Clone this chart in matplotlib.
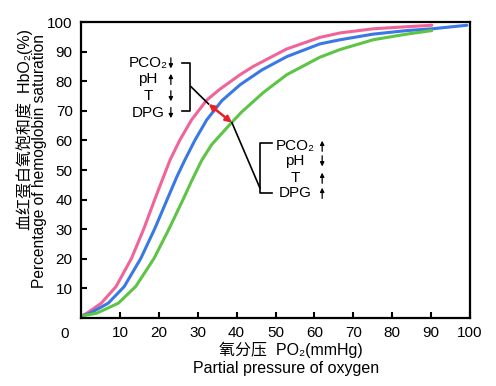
import matplotlib
matplotlib.use("Agg")
from matplotlib import pyplot as plt

# curve points (PO2 mmHg, saturation %)
pink_x = [0.2, 1.5, 5.2, 9.0, 13.0, 16.2, 19.0, 20.7, 22.9, 25.4, 28.4, 32.3, 35.7,
          40.9, 44.3, 52.9, 61.4, 66.6, 75.1, 83.7, 90.2]
pink_y = [0.7, 1.6, 5.0, 10.6, 20.2, 30.3, 40.2, 46.0, 53.4, 60.1, 66.9, 73.6, 77.3,
          82.2, 85.0, 90.9, 94.8, 96.3, 97.7, 98.4, 98.9]

blue_x = [0.2, 2.3, 7.0, 11.1, 15.4, 19.0, 22.2, 24.6, 26.7, 29.3, 32.3, 36.2, 40.9,
          46.5, 52.9, 61.4, 66.6, 75.1, 83.7, 90.2, 99.2]
blue_y = [0.7, 1.6, 5.0, 10.6, 20.2, 30.3, 40.2, 47.6, 53.4, 60.1, 66.9, 73.4, 78.8,
          83.8, 88.3, 92.6, 94.0, 95.9, 97.1, 97.7, 98.9]

green_x = [0.2, 4.0, 9.6, 14.1, 18.8, 22.7, 26.3, 28.4, 31.0, 33.6, 38.7, 41.3, 46.9,
           52.9, 61.4, 66.6, 75.1, 83.7, 90.2]
green_y = [0.7, 1.6, 5.0, 10.7, 20.2, 30.3, 40.2, 46.2, 53.2, 58.6, 66.0, 69.6, 76.2,
           82.2, 88.1, 90.7, 94.0, 95.9, 97.1]

left_labels = ["PCO₂", "pH", "T", "DPG"]
left_dirs = [-1, 1, -1, -1]
right_labels = ["PCO₂", "pH", "T", "DPG"]
right_dirs = [1, -1, 1, 1]

FONT = ["Liberation Sans", "Noto Sans CJK SC", "DejaVu Sans"]
plt.rcParams["font.family"] = FONT

fig = plt.figure(figsize=(4.96, 3.86), dpi=100)
ax = fig.add_axes([81 / 496, 68 / 386, 389 / 496, 296 / 386])

for xs, ys, c in [(pink_x, pink_y, "#F0649A"), (blue_x, blue_y, "#3A78E6"),
                  (green_x, green_y, "#5DC445")]:
    ax.plot(xs, ys, color=c, lw=2.2, solid_capstyle="round", solid_joinstyle="round")

ax.set_xlim(0, 100)
ax.set_ylim(0, 100)
ax.set_xticks(range(10, 101, 10))
ax.set_yticks(range(10, 101, 10))
ax.tick_params(direction="in", length=4, width=1.5, labelsize=11, pad=6)
for s in ax.spines.values():
    s.set_linewidth(1.6)
ax.text(-3, -3, "0", ha="right", va="top", fontsize=11)

# brackets and connector lines
k = dict(color="black", lw=1.2)
ax.plot([26.0, 28.0, 28.0, 26.0], [86.1, 86.1, 69.9, 69.9], **k)
ax.plot([28.3, 32.8], [78.1, 72.3], **k)
ax.plot([49.1, 46.0, 46.0, 49.1], [59.1, 59.1, 42.2, 42.2], **k)
ax.plot([38.8, 46.0], [66.0, 43.9], **k)
ax.annotate("", xy=(38.8, 66.0), xytext=(32.8, 72.3),
            arrowprops=dict(arrowstyle="<|-|>", color="#E8202A", lw=1.8,
                            mutation_scale=9, shrinkA=0, shrinkB=0))

rows_left = [86.1, 80.7, 75.0, 69.3]
rows_right = [58.1, 53.0, 47.3, 42.2]


def factor_list(labels, dirs, rows, xt, xa):
    for lab, d, y in zip(labels, dirs, rows):
        ax.text(xt, y, lab, ha="center", va="center", fontsize=11)
        ax.annotate("", xy=(xa, y + 1.8 * d), xytext=(xa, y - 1.8 * d),
                    arrowprops=dict(arrowstyle="-|>", color="black", lw=0.9,
                                    mutation_scale=6, shrinkA=0, shrinkB=0))


factor_list(left_labels, left_dirs, rows_left, 17.2, 23.1)
factor_list(right_labels, right_dirs, rows_right, 55.0, 62.0)

fig.text(291 / 496, 1 - 350 / 386, "氧分压  PO₂(mmHg)", ha="center", va="center", fontsize=11.5)
fig.text(286 / 496, 1 - 369 / 386, "Partial pressure of oxygen", ha="center", va="center", fontsize=11.5)
fig.text(25 / 496, 1 - 129 / 386, "血红蛋白氧饱和度  HbO₂(%)", rotation=90,
         ha="center", va="center", fontsize=11.5)
fig.text(40 / 496, 1 - 161 / 386, "Percentage of hemoglobin saturation", rotation=90,
         ha="center", va="center", fontsize=11.2)

fig.savefig("out.png", dpi=100)
